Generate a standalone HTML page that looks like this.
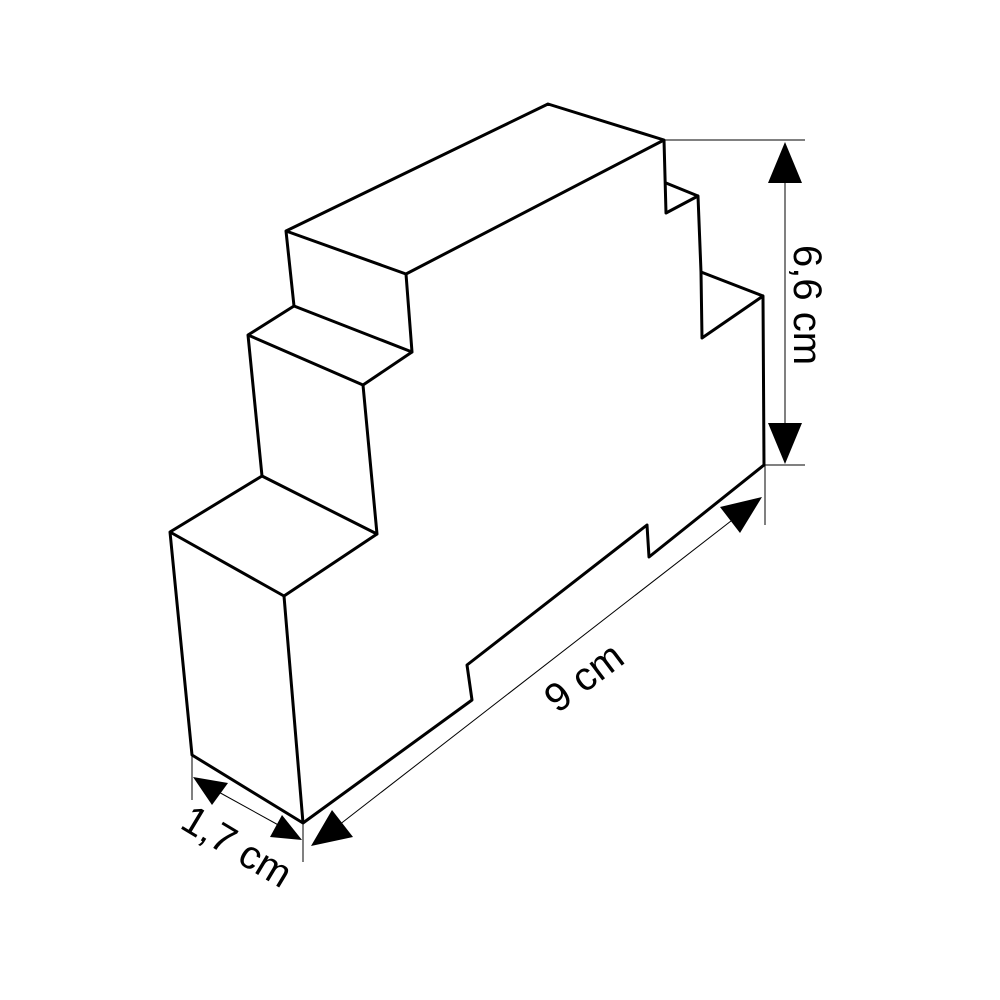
<!DOCTYPE html>
<html><head><style>html,body{margin:0;padding:0;background:#fff}svg{display:block}</style></head>
<body>
<svg width="1000" height="1000" viewBox="0 0 1000 1000" xmlns="http://www.w3.org/2000/svg">
<rect width="1000" height="1000" fill="#fff"/>
<g fill="none" stroke="#000" stroke-width="3" stroke-linejoin="round">
<path d="M286,231 L548,104 L664,140 L666,213 L698,196 L701,272 L702,338 L763,296 L764,465 L649,557 L647,525 L467,665 L472,700 L303,823 L192,755 L170,532 L262,476 L248,335 L294,306 Z"/>
<path d="M666,183 L698,196"/>
<path d="M701,272 L763,296"/>
<path d="M286,231 L406,274 L664,140"/>
<path d="M406,274 L412,352 L294,306"/>
<path d="M248,335 L363,385 L412,352"/>
<path d="M363,385 L377,534 L262,476"/>
<path d="M170,532 L284,596 L377,534"/>
<path d="M284,596 L303,823"/>
</g>
<g stroke="#000" stroke-width="1" fill="none">
<path d="M665,140 H805 M765,465 H805 M785,175 V430"/>
<path d="M765,465 V525 M303,823 V862 M192,755 V800"/>
<path d="M330,832 L740,514"/>
<path d="M215,790 L282,827"/>
</g>
<g fill="#000">
<polygon points="785,142 768,183 802,183"/>
<polygon points="785,464 768,423 802,423"/>
<polygon points="762,497 720,507 740,533"/>
<polygon points="311,846 332,810 353,837"/>
<polygon points="193,777 212,805 228,783"/>
<polygon points="302,840 270,837 282,815"/>
</g>
<g font-family="Liberation Sans, sans-serif" font-size="40" fill="#000" text-anchor="middle">
<text transform="translate(794,305) rotate(90)">6,6 cm</text>
<text transform="translate(592,688) rotate(-37)">9 cm</text>
<text transform="translate(230,858) rotate(31)">1,7 cm</text>
</g>
</svg>
</body></html>
